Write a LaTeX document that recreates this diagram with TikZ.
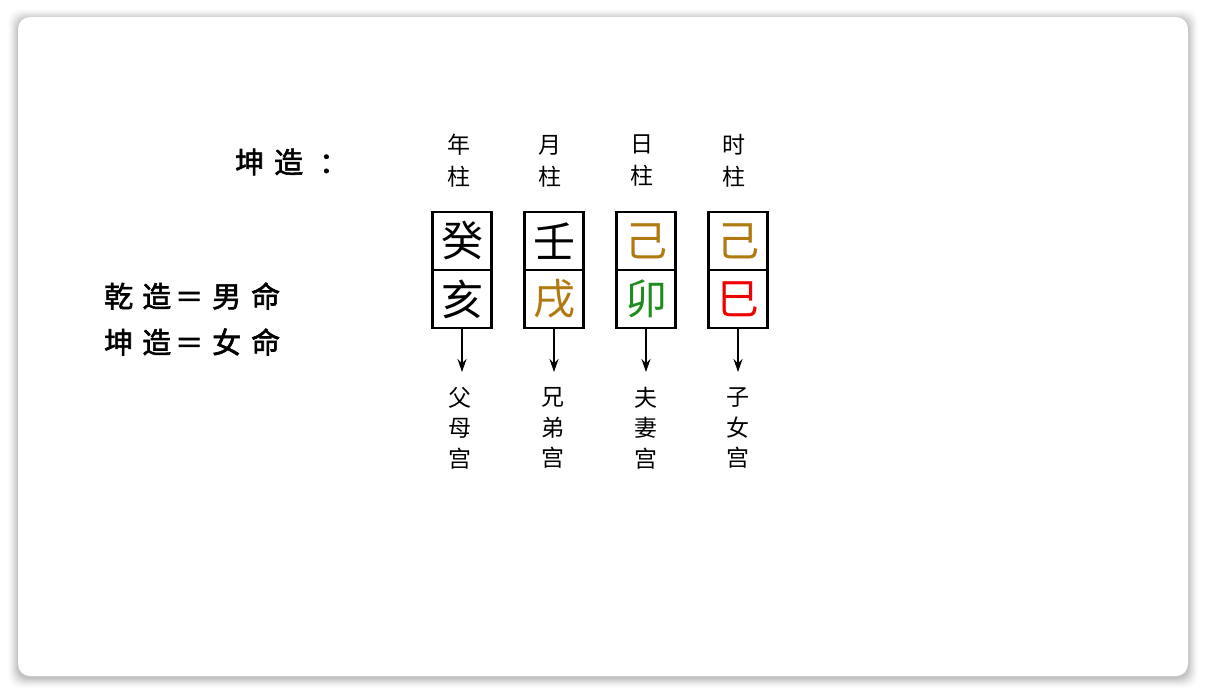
\documentclass[tikz,border=0pt]{standalone}
\usepackage{fontspec}
\usepackage{graphicx}
\usetikzlibrary{arrows.meta}
\newfontfamily\cjk{Noto Sans CJK SC}
\newfontfamily\cjkb[FakeBold=2]{Noto Sans CJK SC}
\definecolor{earth}{HTML}{B07A10}
\definecolor{wood}{HTML}{1E8C1E}
\definecolor{fire}{HTML}{F00000}
\begin{document}
\begin{tikzpicture}[x=1pt,y=-1pt,
  cell/.style={draw=black,line width=2.2pt,minimum width=59pt,minimum height=58pt,inner sep=0pt,font=\cjk\fontsize{42}{42}\selectfont},
  head/.style={align=center,font=\cjk\fontsize{23}{32}\selectfont,inner sep=0pt},
  palace/.style={align=center,font=\cjk\fontsize{23}{30.5}\selectfont,inner sep=0pt},
  lbl/.style={anchor=west,inner sep=0pt,font=\cjkb\fontsize{29}{29}\selectfont},
  arr/.style={-{Stealth[length=13pt,width=9pt]},line width=1.3pt}]
\useasboundingbox (0,0) rectangle (1206,694);
% card shadow
\foreach \i/\o in {10/0.010,9/0.013,8/0.016,7/0.019,6/0.022,5/0.026,4/0.03,3/0.034,2/0.038,1/0.042}{
  \fill[black,opacity=\o,rounded corners=12pt] (18-\i,17-\i+2) rectangle (1188+\i,676+\i+2);
}
\fill[white,rounded corners=12pt] (18,17) rectangle (1188,676);
% left labels
\node[lbl] (kz) at (235,162) {\makebox[39pt][l]{坤}\makebox[45pt][l]{造}：};
\node[lbl] (qn) at (104,296) {\makebox[38pt][l]{乾}\makebox[32pt][l]{造}\makebox[30pt][c]{\scalebox{1.45}[1]{=}}\hspace{8pt}\makebox[39pt][l]{男}命};
\node[lbl] (kn) at (104,342) {\makebox[38pt][l]{坤}\makebox[32pt][l]{造}\makebox[30pt][c]{\scalebox{1.45}[1]{=}}\hspace{8pt}\makebox[39pt][l]{女}命};
% headers
\node[head] (h1) at (459,161) {年\\柱};
\node[head] (h2) at (550,161) {月\\柱};
\node[head] (h3) at (642,161) {日\\柱};
\node[head] (h4) at (734,161) {时\\柱};
% cells
\node[cell] (t1) at (462,241) {癸};
\node[cell] (b1) at (462,299) {亥};
\node[cell] (t2) at (554,241) {壬};
\node[cell,text=earth] (b2) at (554,299) {戌};
\node[cell,text=earth] (t3) at (646,241) {己};
\node[cell,text=wood] (b3) at (646,299) {卯};
\node[cell,text=earth] (t4) at (738,241) {己};
\node[cell,text=fire] (b4) at (738,299) {巳};
% palaces
\node[palace] (p1) at (460,428) {父\\母\\宫};
\node[palace] (p2) at (553,428) {兄\\弟\\宫};
\node[palace] (p3) at (646,428) {夫\\妻\\宫};
\node[palace] (p4) at (738,428) {子\\女\\宫};
% arrow ends
\coordinate (e1) at (462,372);
\coordinate (e2) at (554,372);
\coordinate (e3) at (646,372);
\coordinate (e4) at (738,372);
\foreach \k in {1,2,3,4}{
  \draw[arr] (b\k.south) -- (e\k);
}
\end{tikzpicture}
\end{document}
